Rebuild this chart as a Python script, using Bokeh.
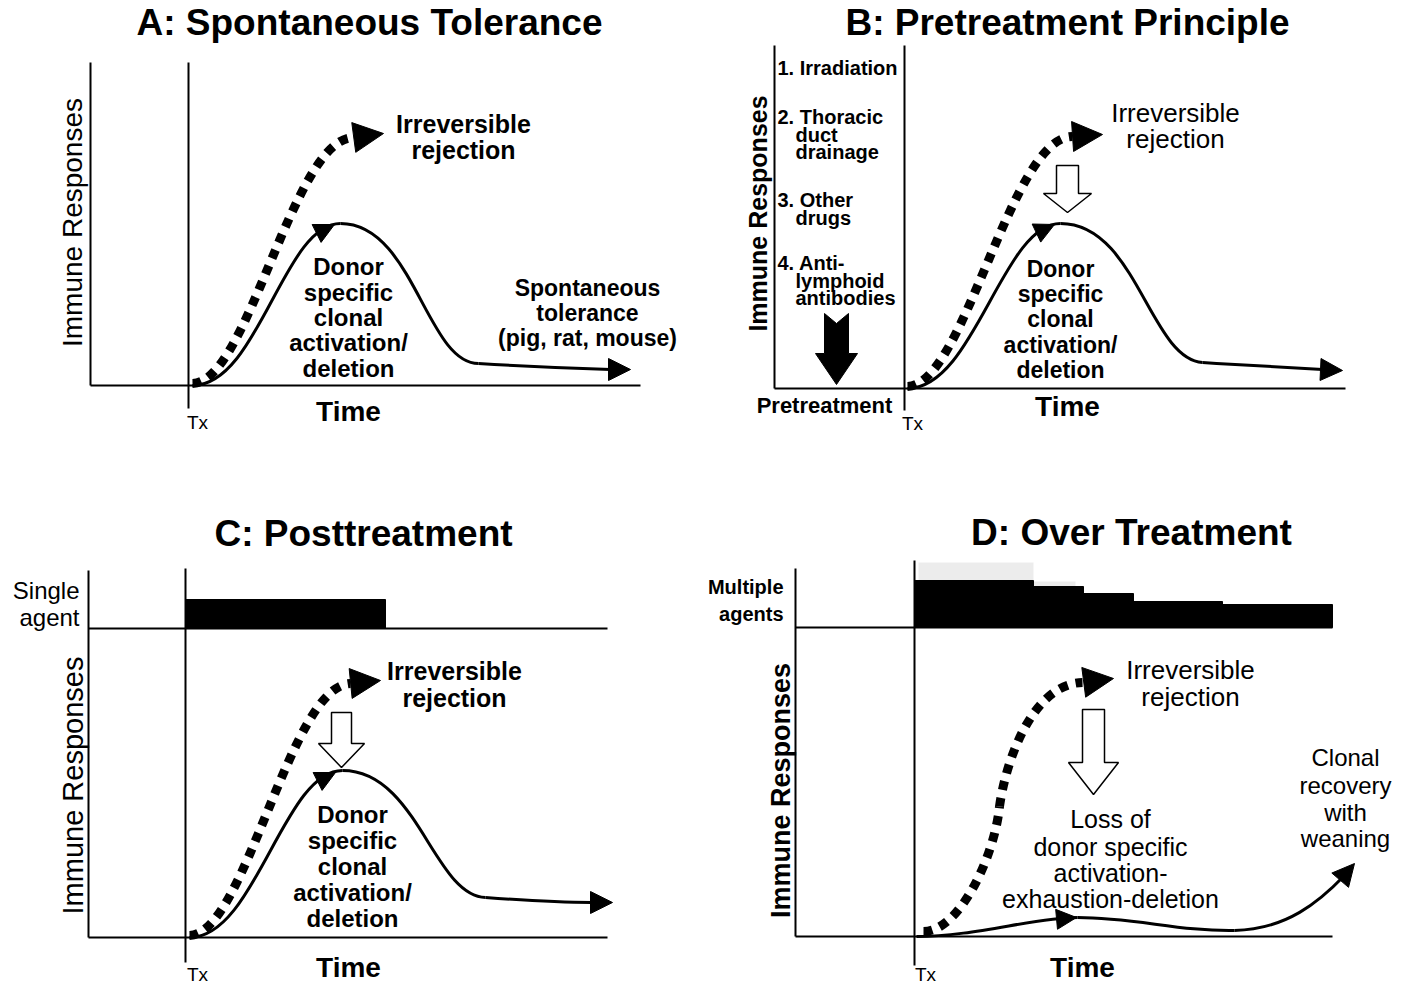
import math
from bokeh.plotting import figure
from bokeh.models import Range1d, Arrow, NormalHead
from bokeh.core.properties import value
from bokeh.embed import file_html
from bokeh.resources import INLINE

SANS = "Liberation Sans"
W, H = 1412, 987

# ---------------- panel layout (page pixels) ----------------
panel_titles = ["A: Spontaneous Tolerance", "B: Pretreatment Principle",
                "C: Posttreatment", "D: Over Treatment"]
title_x = [369, 1067, 363, 1131]
title_y = [22, 22, 533, 532]
origin_x = [188, 904, 185, 914]      # Tx position
origin_y = [385, 388, 937, 936]      # response baseline
frame_left = [90, 774, 88, 795]
frame_top = [62, 45, 570, 568]
frame_right = [640, 1345, 607, 1332]
tx_top = [62, 45, 568, 560]
tx_bottom = [408, 410, 962, 965]
time_x = [348, 1067, 348, 1082]
time_y = [411, 406, 967, 967]
tx_x = [197, 912, 197, 925]
tx_y = [422, 423, 974, 974]
ylab_x = [72, 757, 72, 780]
ylab_y = [222, 213, 785, 790]
ylab_size = [28, 25, 29, 27]
ylab_bold = [False, True, False, True]

# ---------------- curves (local units: time after Tx, response) ----------------
# cubic bezier segments: (t0, r0, ct0, cr0, ct1, cr1, t1, r1)
activation_A = [(4, 0, 70, 0, 95, 162, 152, 162),
                (152, 162, 225, 162, 238, 22, 290, 22),
                (290, 22, 340, 19, 390, 17, 422, 16)]
activation_B = [(3, 0, 70, 0, 98, 165, 156, 165),
                (156, 165, 232, 165, 245, 30, 298, 26),
                (298, 26, 345, 23, 395, 20, 418, 19)]
activation_C = [(4, 0, 70, 0, 98, 167, 157, 167),
                (157, 167, 232, 167, 248, 42, 300, 40),
                (300, 40, 340, 37, 380, 35, 406, 35)]
activation_D = [(2, 0, 60, 0, 120, 19, 163, 19),
                (163, 19, 220, 19, 265, 5, 320, 6),
                (320, 6, 372, 7, 405, 35, 430, 61)]
rejection_A = [(4, 2, 60, 3, 104, 247, 165, 248)]
rejection_B = [(3, 2, 60, 3, 106, 252, 168, 252)]
rejection_C = [(4, 2, 60, 3, 104, 252, 165, 254)]
rejection_D = [(9, 5, 45, 5, 80, 80, 85, 130),
               (85, 130, 92, 180, 120, 253, 168, 254)]
activation = [activation_A, activation_B, activation_C, activation_D]
rejection = [rejection_A, rejection_B, rejection_C, rejection_D]

# arrow heads: (from_t, from_r, tip_t, tip_r)
rejection_head = [(165, 248, 195, 252), (168, 252, 198, 254),
                  (165, 254, 195, 257), (168, 254, 199, 258)]
activation_mid_head = [(128, 152, 146, 161), (131, 155, 150, 164),
                       (132, 156, 150, 165), (140, 17, 162, 19)]
activation_end_head = [(420, 16, 442, 16), (416, 19, 438, 18),
                       (404, 35, 427, 35), (428, 59, 440, 73)]

# ---------------- treatment bars ----------------
treat_line_y = {"C": 628, "D": 627}
single_agent_start, single_agent_end, single_agent_level = [0], [200], [29]
multi_agent_edges = [0, 119, 169, 219, 308, 418]
multi_agent_levels = [47, 41, 34, 26, 23]

# open (hollow) arrows: centre x, top, neck, tip, shaft half width, head half width
hollow_cx = [1067, 341, 1093]
hollow_top = [165, 712, 709]
hollow_neck = [193, 743, 762]
hollow_tip = [212, 767, 794]
hollow_sh = [11, 10, 11]
hollow_hh = [24, 23, 25]

# ---------------- figure ----------------
p = figure(width=W, height=H, x_range=Range1d(0, W), y_range=Range1d(H, 0),
           output_backend="svg", toolbar_location=None, min_border=0)
p.axis.visible = False
p.grid.visible = False
p.outline_line_color = None
p.background_fill_color = "white"
p.border_fill_color = "white"


def label(xs, ys, texts, size, bold=False, align="center", angle=0.0):
    p.text(x=xs, y=ys, text=texts, text_font=value(SANS),
           text_font_size=value(f"{size}px"),
           text_font_style="bold" if bold else "normal",
           text_align=align, text_baseline="middle", angle=angle,
           text_color="black")


def draw_bez(i, segs, **kw):
    ox, oy = origin_x[i], origin_y[i]
    p.bezier(x0=[ox + s[0] for s in segs], y0=[oy - s[1] for s in segs],
             cx0=[ox + s[2] for s in segs], cy0=[oy - s[3] for s in segs],
             cx1=[ox + s[4] for s in segs], cy1=[oy - s[5] for s in segs],
             x1=[ox + s[6] for s in segs], y1=[oy - s[7] for s in segs], **kw)


def head(i, h, size):
    ox, oy = origin_x[i], origin_y[i]
    p.add_layout(Arrow(end=NormalHead(size=size, fill_color="black", line_color="black", line_width=1),
                       x_start=ox + h[0], y_start=oy - h[1], x_end=ox + h[2], y_end=oy - h[3],
                       line_alpha=0))


# treatment bars (under the axes)
cx_ = origin_x[2]
p.quad(left=[cx_ + v for v in single_agent_start], right=[cx_ + v for v in single_agent_end],
       top=[treat_line_y["C"] - v for v in single_agent_level], bottom=[treat_line_y["C"]] * len(single_agent_level),
       fill_color="black", line_color="black")
dx_ = origin_x[3]
p.quad(left=[dx_ + 4, dx_ + multi_agent_edges[1]], right=[dx_ + multi_agent_edges[1], dx_ + multi_agent_edges[2] - 8],
       top=[treat_line_y["D"] - 65, treat_line_y["D"] - 46],
       bottom=[treat_line_y["D"] - multi_agent_levels[0], treat_line_y["D"] - multi_agent_levels[1]],
       fill_color="#d4d4d4", fill_alpha=0.45, line_alpha=0)
p.quad(left=[dx_ + v for v in multi_agent_edges[:-1]], right=[dx_ + v for v in multi_agent_edges[1:]],
       top=[treat_line_y["D"] - v for v in multi_agent_levels], bottom=[treat_line_y["D"]] * len(multi_agent_levels),
       fill_color="black", line_color="black")

for i in range(4):
    ox, oy = origin_x[i], origin_y[i]
    # axes
    p.segment(x0=[frame_left[i], ox, frame_left[i]], y0=[frame_top[i], tx_top[i], oy],
              x1=[frame_left[i], ox, frame_right[i]], y1=[oy, tx_bottom[i], oy],
              line_color="black", line_width=2)
    # curves
    draw_bez(i, rejection[i], line_color="black", line_width=9, line_dash="9 8")
    draw_bez(i, activation[i], line_color="black", line_width=3)
    head(i, rejection_head[i], 30)
    head(i, activation_mid_head[i], 20)
    head(i, activation_end_head[i], 22)
    # axis texts
    label([title_x[i]], [title_y[i]], [panel_titles[i]], 37, bold=True)
    label([time_x[i]], [time_y[i]], ["Time"], 28, bold=True)
    label([tx_x[i]], [tx_y[i]], ["Tx"], 19)
    label([ylab_x[i]], [ylab_y[i]], ["Immune Responses"], ylab_size[i], bold=ylab_bold[i], angle=math.pi / 2)

# treatment baselines
p.segment(x0=[frame_left[2], frame_left[3]], y0=[treat_line_y["C"], treat_line_y["D"]],
          x1=[frame_right[2], frame_right[3]], y1=[treat_line_y["C"], treat_line_y["D"]],
          line_color="black", line_width=2)

# hollow arrows
xs, ys = [], []
for cx, t, n, tip, sh, hh in zip(hollow_cx, hollow_top, hollow_neck, hollow_tip, hollow_sh, hollow_hh):
    xs.append([cx - sh, cx + sh, cx + sh, cx + hh, cx, cx - hh, cx - sh])
    ys.append([t, t, n, n, tip, n, n])
p.patches(xs=xs, ys=ys, fill_color="white", line_color="black", line_width=1.5)

# black pretreatment arrow (B)
bcx, btop, bnotch, bneck, btip, bsh, bhh = 836, 313, 10, 353, 384, 12, 21
p.patch(x=[bcx - bsh, bcx, bcx + bsh, bcx + bsh, bcx + bhh, bcx, bcx - bhh, bcx - bsh],
        y=[btop, btop + bnotch, btop, bneck, bneck, btip, bneck, bneck],
        fill_color="black", line_color="black")

# ---------------- annotations ----------------
# A
label([463, 463], [123, 149], ["Irreversible", "rejection"], 25, bold=True)
label([348] * 5, [266, 292, 317, 342, 368],
      ["Donor", "specific", "clonal", "activation/", "deletion"], 24, bold=True)
label([587] * 3, [287, 312, 337], ["Spontaneous", "tolerance", "(pig, rat, mouse)"], 23, bold=True)
# B
label([1175, 1175], [112, 138], ["Irreversible", "rejection"], 26)
label([1060] * 5, [268, 293, 318, 344, 369],
      ["Donor", "specific", "clonal", "activation/", "deletion"], 23, bold=True)
label([777, 777, 795, 795, 777, 795, 777, 795, 795], [67, 116, 134, 151, 199, 217, 262, 280, 297],
      ["1. Irradiation", "2. Thoracic", "duct", "drainage", "3. Other", "drugs",
       "4. Anti-", "lymphoid", "antibodies"], 20, bold=True, align="left")
label([824], [405], ["Pretreatment"], 22, bold=True)
# C
label([79, 79], [590, 617], ["Single", "agent"], 24, align="right")
label([454, 454], [670, 697], ["Irreversible", "rejection"], 25, bold=True)
label([352] * 5, [814, 840, 866, 892, 918],
      ["Donor", "specific", "clonal", "activation/", "deletion"], 24, bold=True)
# D
label([783, 783], [586, 613], ["Multiple", "agents"], 20, bold=True, align="right")
label([1190, 1190], [669, 696], ["Irreversible", "rejection"], 26)
label([1110] * 4, [818, 846, 872, 898],
      ["Loss of", "donor specific", "activation-", "exhaustion-deletion"], 25)
label([1345] * 4, [757, 785, 812, 838], ["Clonal", "recovery", "with", "weaning"], 24)

open("out.html", "w").write(file_html(p, INLINE))
